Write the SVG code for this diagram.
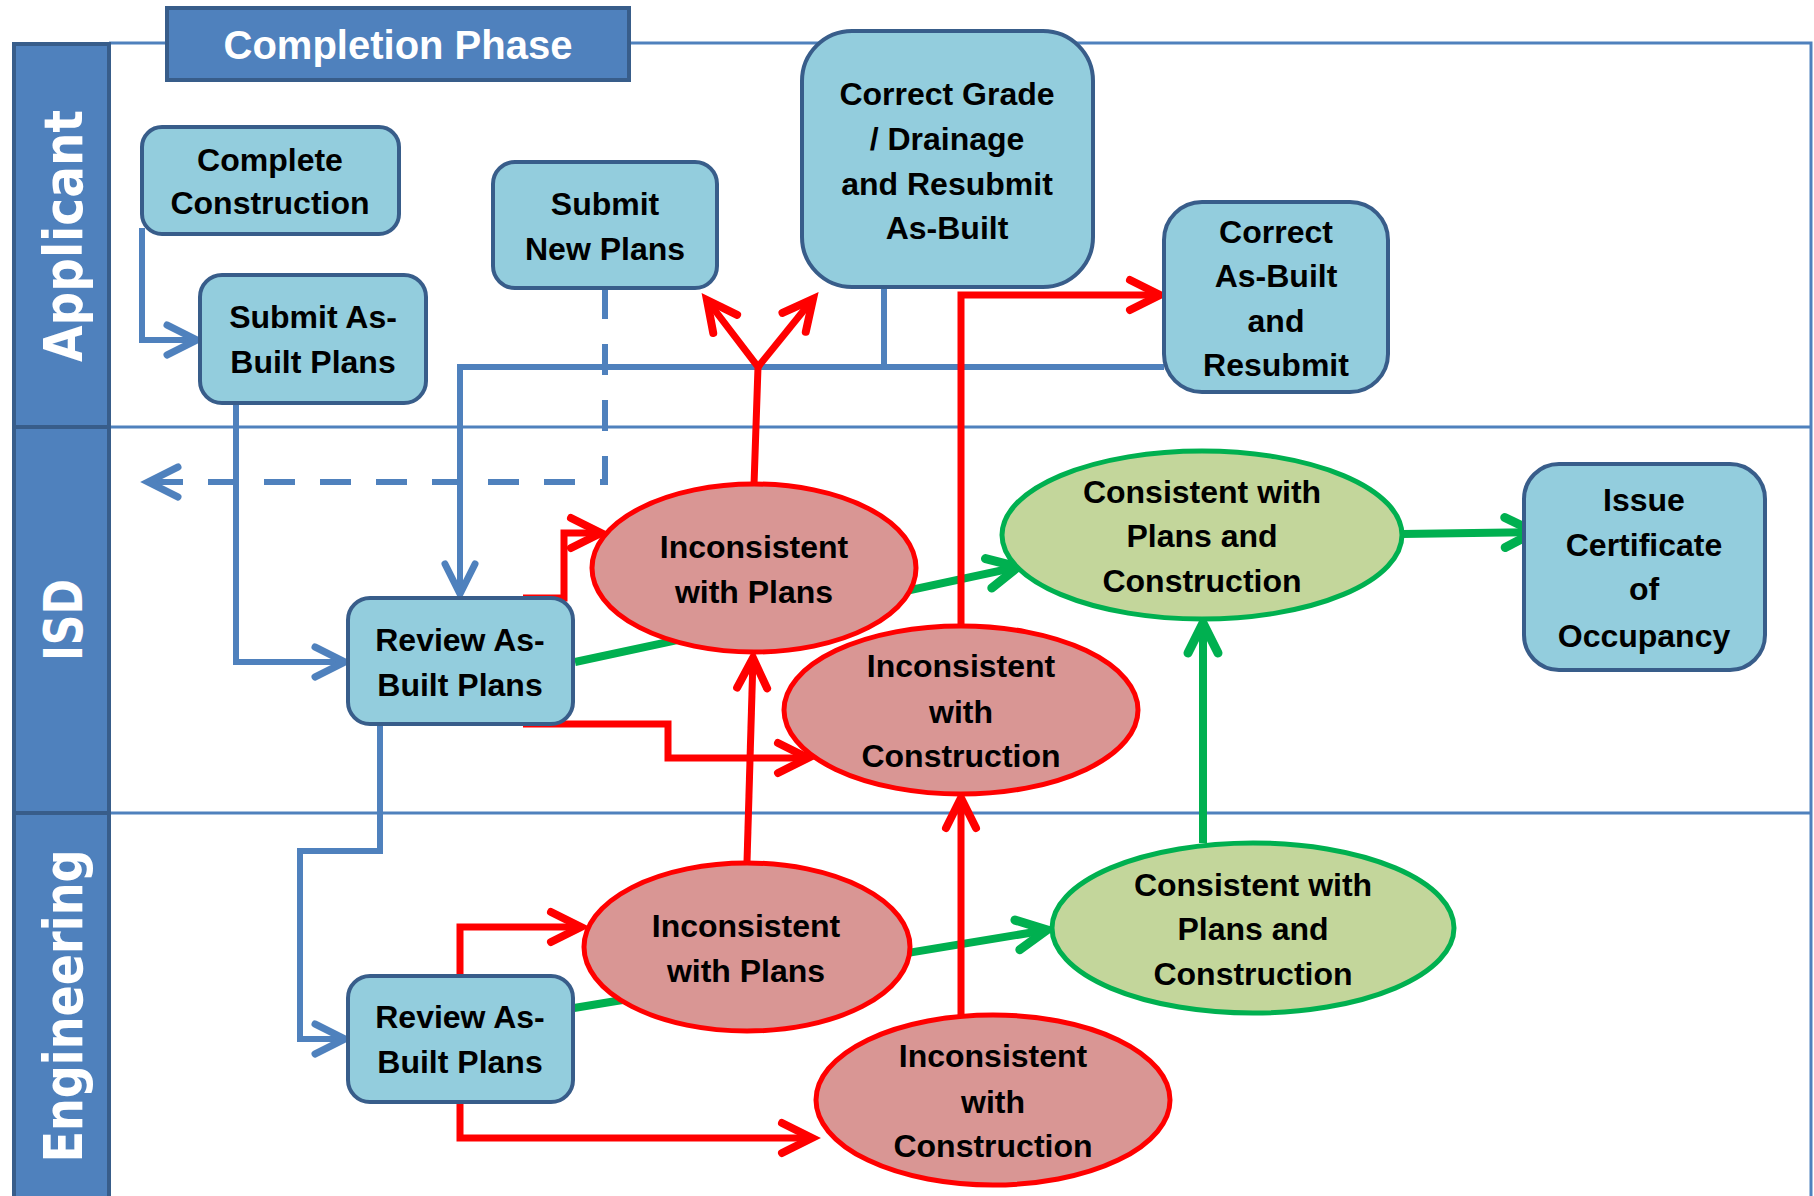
<svg xmlns="http://www.w3.org/2000/svg" width="1814" height="1196" viewBox="0 0 1814 1196">
<style>
.lane{fill:none;stroke:#4F81BD;stroke-width:3}
.hdr{fill:#4F81BD;stroke:#385D8A;stroke-width:4}
.hdrt{font-family:"DejaVu Sans",sans-serif;font-weight:bold;font-size:53px;fill:#fff;text-anchor:middle}
.box{fill:#93CDDD;stroke:#385D8A;stroke-width:4}
.bad{fill:#D99694;stroke:#FF0000;stroke-width:5}
.ok{fill:#C3D69B;stroke:#00B050;stroke-width:5}
.t{font-family:"Liberation Sans",Arial,sans-serif;font-weight:bold;font-size:32px;fill:#000;text-anchor:middle}
.cb{fill:none;stroke:#4F81BD;stroke-width:6}
.cr{fill:none;stroke:#FF0000;stroke-width:7}
.cg{fill:none;stroke:#00B050;stroke-width:8}
</style>
<defs>
<marker id="mb" markerUnits="userSpaceOnUse" viewBox="-40 -20 44 40" refX="0" refY="0" markerWidth="44" markerHeight="40" orient="auto" overflow="visible"><path d="M-30,-15 L0,0 L-30,15" fill="none" stroke="#4F81BD" stroke-width="7" stroke-linecap="round"/></marker>
<marker id="mr" markerUnits="userSpaceOnUse" viewBox="-40 -20 44 40" refX="0" refY="0" markerWidth="44" markerHeight="40" orient="auto" overflow="visible"><path d="M-30,-15 L0,0 L-30,15" fill="none" stroke="#FF0000" stroke-width="8" stroke-linecap="round"/></marker>
<marker id="mg" markerUnits="userSpaceOnUse" viewBox="-40 -20 44 40" refX="0" refY="0" markerWidth="44" markerHeight="40" orient="auto" overflow="visible"><path d="M-30,-15 L0,0 L-30,15" fill="none" stroke="#00B050" stroke-width="9" stroke-linecap="round"/></marker>
</defs>
<rect width="1814" height="1196" fill="#fff"/>
<g id="lanes">
<path class="lane" d="M109,43 H1811 V1196 M109,427 H1811 M109,813 H1811"/>
<rect class="hdr" x="14" y="44" width="95" height="383"/>
<rect class="hdr" x="14" y="427" width="95" height="386"/>
<rect class="hdr" x="14" y="813" width="95" height="390"/>
<text class="hdrt" transform="translate(82,236) rotate(-90)" textLength="252" lengthAdjust="spacingAndGlyphs">Applicant</text>
<text class="hdrt" transform="translate(82,620) rotate(-90)" textLength="82" lengthAdjust="spacingAndGlyphs">ISD</text>
<text class="hdrt" transform="translate(82,1006) rotate(-90)" textLength="313" lengthAdjust="spacingAndGlyphs">Engineering</text>
</g>
<g id="title">
<rect x="167" y="8" width="462" height="72" fill="#4F81BD" stroke="#385D8A" stroke-width="4"/>
<text x="398" y="59" font-family="Liberation Sans,Arial,sans-serif" font-weight="bold" font-size="40" fill="#fff" text-anchor="middle">Completion Phase</text>
</g>
<g id="connectors">
<path class="cb" d="M142,228 V340 H197" marker-end="url(#mb)"/>
<path class="cb" d="M236,403 V662 H345" marker-end="url(#mb)"/>
<path class="cb" d="M605,288 V482 H148" stroke-dasharray="31 25" marker-end="url(#mb)"/>
<path class="cb" d="M1164,367 H460 V594" marker-end="url(#mb)"/>
<path class="cb" d="M884,287 V367"/>
<path class="cb" d="M380,725 V851 H300 V1039 H345" stroke-width="5" marker-end="url(#mb)"/>
<path class="cg" d="M575,662 L1018,567" marker-end="url(#mg)"/>
<path class="cg" d="M574,1008 L1047,930" marker-end="url(#mg)"/>
<path class="cg" d="M1203,843 V623" marker-end="url(#mg)"/>
<path class="cg" d="M1402,534 L1535,532" marker-end="url(#mg)"/>
<path class="cr" d="M523,598 H564 V533 H601" stroke-width="8" marker-end="url(#mr)"/>
<path class="cr" d="M523,724 H668 V758 H808" marker-end="url(#mr)"/>
<path class="cr" d="M754,485 L758,367 L707,300" marker-end="url(#mr)"/>
<path class="cr" d="M758,367 L813,299" marker-end="url(#mr)"/>
<path class="cr" d="M961,626 V295 H1160" marker-end="url(#mr)"/>
<path class="cr" d="M747,862 L753,658" marker-end="url(#mr)"/>
<path class="cr" d="M961,1020 V798" marker-end="url(#mr)"/>
<path class="cr" d="M460,975 V927 H581" marker-end="url(#mr)"/>
<path class="cr" d="M460,1103 V1138 H812" marker-end="url(#mr)"/>
</g>
<g id="complete-construction">
<rect class="box" x="142" y="127" width="257" height="107" rx="20"/>
<text class="t" x="270" y="171">Complete</text>
<text class="t" x="270" y="214">Construction</text>
</g>
<g id="submit-as-built">
<rect class="box" x="200" y="275" width="226" height="128" rx="22"/>
<text class="t" x="313" y="328">Submit As-</text>
<text class="t" x="313" y="373">Built Plans</text>
</g>
<g id="submit-new-plans">
<rect class="box" x="493" y="162" width="224" height="126" rx="22"/>
<text class="t" x="605" y="215">Submit</text>
<text class="t" x="605" y="260">New Plans</text>
</g>
<g id="correct-grade">
<rect class="box" x="802" y="31" width="291" height="256" rx="50"/>
<text class="t" x="947" y="105">Correct Grade</text>
<text class="t" x="947" y="150">/ Drainage</text>
<text class="t" x="947" y="195">and Resubmit</text>
<text class="t" x="947" y="239">As-Built</text>
</g>
<g id="correct-as-built">
<rect class="box" x="1164" y="202" width="224" height="190" rx="38"/>
<text class="t" x="1276" y="243">Correct</text>
<text class="t" x="1276" y="287">As-Built</text>
<text class="t" x="1276" y="332">and</text>
<text class="t" x="1276" y="376">Resubmit</text>
</g>
<g id="issue-co">
<rect class="box" x="1524" y="464" width="241" height="206" rx="35"/>
<text class="t" x="1644" y="511">Issue</text>
<text class="t" x="1644" y="556">Certificate</text>
<text class="t" x="1644" y="600">of</text>
<text class="t" x="1644" y="647">Occupancy</text>
</g>
<g id="review-isd">
<rect class="box" x="348" y="598" width="225" height="126" rx="22"/>
<text class="t" x="460" y="651">Review As-</text>
<text class="t" x="460" y="696">Built Plans</text>
</g>
<g id="review-eng">
<rect class="box" x="348" y="976" width="225" height="126" rx="22"/>
<text class="t" x="460" y="1028">Review As-</text>
<text class="t" x="460" y="1073">Built Plans</text>
</g>
<g id="isd-inconsistent-plans">
<ellipse class="bad" cx="754" cy="568" rx="162" ry="84"/>
<text class="t" x="754" y="558">Inconsistent</text>
<text class="t" x="754" y="603">with Plans</text>
</g>
<g id="isd-inconsistent-construction">
<ellipse class="bad" cx="961" cy="710" rx="177" ry="84"/>
<text class="t" x="961" y="677">Inconsistent</text>
<text class="t" x="961" y="723">with</text>
<text class="t" x="961" y="767">Construction</text>
</g>
<g id="isd-consistent">
<ellipse class="ok" cx="1202" cy="535" rx="200" ry="84"/>
<text class="t" x="1202" y="503">Consistent with</text>
<text class="t" x="1202" y="547">Plans and</text>
<text class="t" x="1202" y="592">Construction</text>
</g>
<g id="eng-inconsistent-plans">
<ellipse class="bad" cx="747" cy="947" rx="163" ry="84"/>
<text class="t" x="746" y="937">Inconsistent</text>
<text class="t" x="746" y="982">with Plans</text>
</g>
<g id="eng-inconsistent-construction">
<ellipse class="bad" cx="993" cy="1100" rx="177" ry="85"/>
<text class="t" x="993" y="1067">Inconsistent</text>
<text class="t" x="993" y="1113">with</text>
<text class="t" x="993" y="1157">Construction</text>
</g>
<g id="eng-consistent">
<ellipse class="ok" cx="1253" cy="928" rx="201" ry="85"/>
<text class="t" x="1253" y="896">Consistent with</text>
<text class="t" x="1253" y="940">Plans and</text>
<text class="t" x="1253" y="985">Construction</text>
</g>
</svg>
